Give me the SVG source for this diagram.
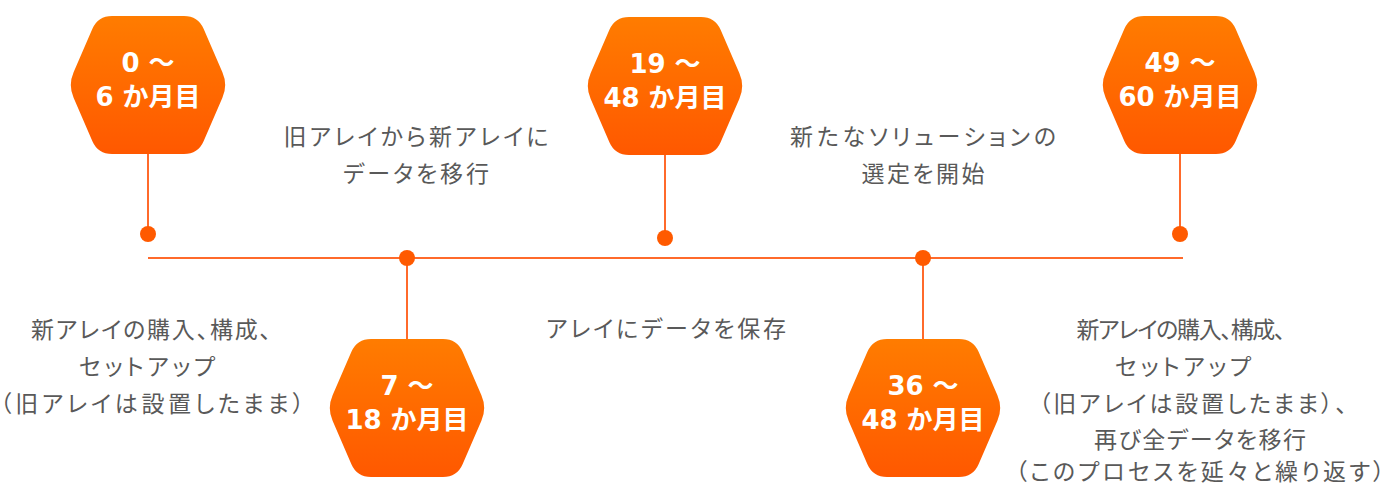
<svg xmlns="http://www.w3.org/2000/svg" xmlns:xlink="http://www.w3.org/1999/xlink" width="1390" height="485" viewBox="0 0 1390 485">
<defs>
<linearGradient id="hexGrad" x1="0" y1="0" x2="0" y2="1">
<stop offset="0" stop-color="#FF7C00"/>
<stop offset="1" stop-color="#FF5800"/>
</linearGradient>
<path id="hex" d="M -74.4,12.8 Q -80,0 -74.4,-12.8 L -55.6,-56.2 Q -50,-69 -36,-69 L 36,-69 Q 50,-69 55.6,-56.2 L 74.4,-12.8 Q 80,0 74.4,12.8 L 55.6,56.2 Q 50,69 36,69 L -36,69 Q -50,69 -55.6,56.2 Z" fill="url(#hexGrad)"/>
</defs>
<style>
.hx{font-family:"DejaVu Sans","Noto Sans CJK JP",sans-serif;font-weight:700;font-size:26px;fill:#FFFFFF;text-anchor:middle}
.lb{font-family:"Noto Sans CJK JP","Noto Sans",sans-serif;font-weight:400;font-size:23px;fill:#595959;text-anchor:middle;font-feature-settings:"palt" 1}
.ln{stroke:#FF6A2B;stroke-width:2;fill:none}
.dot{fill:#FF5A00}
</style>
<rect width="1390" height="485" fill="#FFFFFF"/>
<g id="connectors">
<line class="ln" x1="148" y1="258" x2="1183" y2="258"/>
<line class="ln" x1="148" y1="150" x2="148" y2="234"/>
<line class="ln" x1="665" y1="150" x2="665" y2="238"/>
<line class="ln" x1="1180" y1="150" x2="1180" y2="234"/>
<line class="ln" x1="407" y1="258" x2="407" y2="345"/>
<line class="ln" x1="923" y1="258" x2="923" y2="345"/>
<circle class="dot" cx="148" cy="234" r="8"/>
<circle class="dot" cx="665" cy="238" r="8"/>
<circle class="dot" cx="1180" cy="234" r="8"/>
<circle class="dot" cx="407" cy="258" r="8"/>
<circle class="dot" cx="923" cy="258" r="8"/>
</g>
<g id="node-0-6">
<use xlink:href="#hex" href="#hex" x="148" y="85"/>
<text class="hx" x="148" y="72">0 〜</text>
<text class="hx" x="148" y="106">6 か月目</text>
</g>
<g id="node-7-18">
<use xlink:href="#hex" href="#hex" x="407" y="408"/>
<text class="hx" x="407" y="395">7 〜</text>
<text class="hx" x="407" y="429">18 か月目</text>
</g>
<g id="node-19-48">
<use xlink:href="#hex" href="#hex" x="665" y="86"/>
<text class="hx" x="665" y="73">19 〜</text>
<text class="hx" x="665" y="107">48 か月目</text>
</g>
<g id="node-36-48">
<use xlink:href="#hex" href="#hex" x="923" y="408"/>
<text class="hx" x="923" y="395">36 〜</text>
<text class="hx" x="923" y="429">48 か月目</text>
</g>
<g id="node-49-60">
<use xlink:href="#hex" href="#hex" x="1180" y="85"/>
<text class="hx" x="1180" y="72">49 〜</text>
<text class="hx" x="1180" y="106">60 か月目</text>
</g>
<g id="label-1">
<text class="lb" x="151" y="338" textLength="240">新アレイの購入、構成、</text>
<text class="lb" x="147" y="375" textLength="136">セットアップ</text>
<text class="lb" x="152" y="412" textLength="304">（旧アレイは設置したまま）</text>
</g>
<g id="label-2">
<text class="lb" x="416" y="145" textLength="265">旧アレイから新アレイに</text>
<text class="lb" x="416" y="182" textLength="146">データを移行</text>
</g>
<g id="label-3">
<text class="lb" x="666" y="337" textLength="240">アレイにデータを保存</text>
</g>
<g id="label-4">
<text class="lb" x="923" y="145" textLength="266">新たなソリューションの</text>
<text class="lb" x="923" y="182" textLength="123">選定を開始</text>
</g>
<g id="label-5">
<text class="lb" x="1181" y="338" textLength="209">新アレイの購入、構成、</text>
<text class="lb" x="1183" y="375" textLength="136">セットアップ</text>
<text class="lb" x="1193" y="412" textLength="308">（旧アレイは設置したまま）、</text>
<text class="lb" x="1200" y="448" textLength="212">再び全データを移行</text>
<text class="lb" x="1200" y="480" textLength="369">（このプロセスを延々と繰り返す）</text>
</g>
</svg>
